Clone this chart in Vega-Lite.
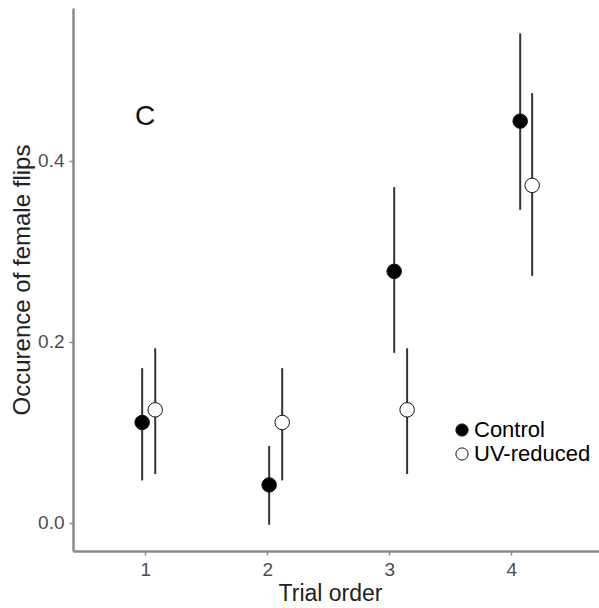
{
  "$schema": "https://vega.github.io/schema/vega-lite/v6.json",
  "width": 526,
  "height": 543,
  "autosize": {"type": "none"},
  "padding": {"left": 73, "top": 8, "right": 0, "bottom": 57},
  "background": "white",
  "config": {
    "view": {"stroke": null},
    "font": "Liberation Sans",
    "axis": {
      "grid": false,
      "domainColor": "#8a8a8a",
      "domainWidth": 2.5,
      "tickColor": "#8a8a8a",
      "tickWidth": 1.5,
      "tickSize": 4,
      "labelFont": "Liberation Sans",
      "labelFontSize": 19,
      "labelColor": "#4d4d4d",
      "labelPadding": 5,
      "titleFont": "Liberation Sans",
      "titleFontSize": 23,
      "titleFontWeight": "normal",
      "titleColor": "#222222"
    }
  },
  "datasets": {
    "flips": [
      {"group": "Control", "trial": 1, "x": 0.975, "p": 0.111, "lo": 0.047, "hi": 0.171},
      {"group": "UV-reduced", "trial": 1, "x": 1.082, "p": 0.125, "lo": 0.054, "hi": 0.193},
      {"group": "Control", "trial": 2, "x": 2.016, "p": 0.042, "lo": -0.002, "hi": 0.085},
      {"group": "UV-reduced", "trial": 2, "x": 2.123, "p": 0.111, "lo": 0.047, "hi": 0.171},
      {"group": "Control", "trial": 3, "x": 3.041, "p": 0.278, "lo": 0.188, "hi": 0.371},
      {"group": "UV-reduced", "trial": 3, "x": 3.147, "p": 0.125, "lo": 0.054, "hi": 0.193},
      {"group": "Control", "trial": 4, "x": 4.074, "p": 0.444, "lo": 0.346, "hi": 0.541},
      {"group": "UV-reduced", "trial": 4, "x": 4.172, "p": 0.373, "lo": 0.273, "hi": 0.475}
    ],
    "panel": [{"label": "C", "x": 1.0, "y": 0.449}]
  },
  "layer": [
    {
      "data": {"name": "flips"},
      "mark": {"type": "rule", "color": "#333333", "strokeWidth": 2},
      "encoding": {
        "x": {
          "field": "x",
          "type": "quantitative",
          "scale": {"domain": [0.408, 4.72], "nice": false, "zero": false},
          "axis": {"values": [1, 2, 3, 4], "format": "d", "title": "Trial order", "titlePadding": 3, "titleX": 257}
        },
        "y": {
          "field": "lo",
          "type": "quantitative",
          "scale": {"domain": [-0.031, 0.569], "nice": false, "zero": false},
          "axis": {"values": [0, 0.2, 0.4], "format": ".1f", "title": "Occurence of female flips", "titlePadding": 3, "titleFontSize": 24}
        },
        "y2": {"field": "hi"}
      }
    },
    {
      "data": {"name": "flips"},
      "mark": {"type": "point", "shape": "circle", "filled": true, "size": 210, "stroke": "#111111", "strokeWidth": 1, "opacity": 1},
      "encoding": {
        "x": {"field": "x", "type": "quantitative"},
        "y": {"field": "p", "type": "quantitative"},
        "fill": {
          "field": "group",
          "type": "nominal",
          "scale": {"domain": ["Control", "UV-reduced"], "range": ["#000000", "#ffffff"]},
          "legend": {
            "title": null,
            "orient": "none",
            "legendX": 378,
            "legendY": 411,
            "symbolType": "circle",
            "symbolSize": 150,
            "symbolStrokeColor": "#111111",
            "symbolStrokeWidth": 1,
            "symbolOpacity": 1,
            "labelFont": "Liberation Sans",
            "labelFontSize": 22,
            "labelColor": "#000000",
            "labelOffset": 1,
            "rowPadding": 2
          }
        }
      }
    },
    {
      "data": {"name": "panel"},
      "mark": {"type": "text", "fontSize": 28, "font": "Liberation Sans", "color": "#111111"},
      "encoding": {
        "x": {"field": "x", "type": "quantitative"},
        "y": {"field": "y", "type": "quantitative"},
        "text": {"field": "label"}
      }
    }
  ]
}
